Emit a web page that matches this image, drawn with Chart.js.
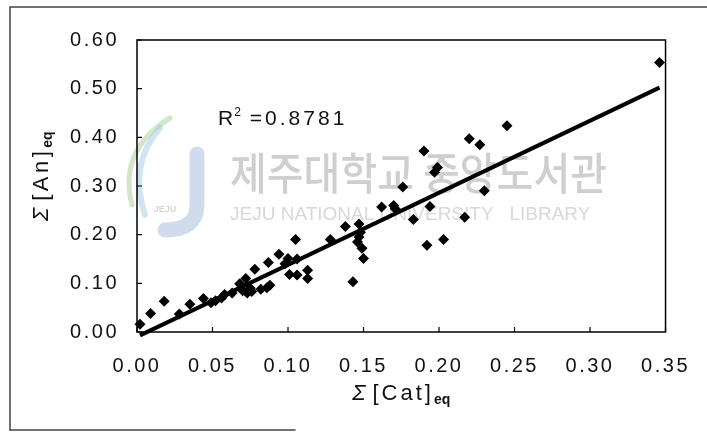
<!DOCTYPE html>
<html><head><meta charset="utf-8">
<script src="https://cdn.jsdelivr.net/npm/chart.js@4.4.1/dist/chart.umd.min.js"></script>
<style>html,body{margin:0;padding:0;background:#fff}#wrap{width:707px;height:434px;position:relative}</style>
</head><body><div id="wrap"><canvas id="c" width="707" height="434"></canvas></div>
<script>
// ---- data ----
const catEq = [0.002,0.009,0.018,0.028,0.035,0.044,0.049,0.052,0.056,0.058,0.063,0.068,0.070,0.072,0.073,0.076,0.075,0.078,0.082,0.086,0.088,0.087,0.094,0.098,0.100,0.101,0.105,0.106,0.106,0.113,0.113,0.128,0.138,0.143,0.147,0.148,0.147,0.146,0.149,0.150,0.162,0.170,0.171,0.176,0.183,0.190,0.192,0.194,0.197,0.199,0.203,0.217,0.220,0.227,0.230,0.245,0.346];
const anEq  = [0.016,0.038,0.063,0.037,0.057,0.069,0.060,0.064,0.070,0.077,0.080,0.099,0.085,0.110,0.080,0.083,0.090,0.129,0.088,0.091,0.096,0.143,0.160,0.140,0.151,0.118,0.190,0.150,0.117,0.127,0.110,0.190,0.217,0.103,0.222,0.205,0.195,0.185,0.172,0.151,0.257,0.260,0.253,0.298,0.231,0.372,0.178,0.258,0.328,0.338,0.190,0.236,0.397,0.385,0.290,0.424,0.554];
const X_TICKS = ['0.00','0.05','0.10','0.15','0.20','0.25','0.30','0.35'];
const Y_TICKS = ['0.00','0.10','0.20','0.30','0.40','0.50','0.60'];
const TREND_SLOPE = 1.48;
const TREND_INTERCEPT = -0.010;
const R2_VALUE = '0.8781';

const points = catEq.map((x,i)=>({x:x, y:anEq[i]}));
const xMin = Math.min(...catEq), xMax = Math.max(...catEq);
const trend = [{x:xMin, y:TREND_SLOPE*xMin+TREND_INTERCEPT},{x:xMax, y:TREND_SLOPE*xMax+TREND_INTERCEPT}];

const FONT = 'Liberation Sans, Arial, sans-serif';

function drawParts(ctx, parts, x, y){
  let cx = x;
  parts.forEach(p=>{
    ctx.font = p.font;
    ctx.letterSpacing = p.ls || '0px';
    ctx.fillText(p.t, cx, y + (p.dy||0));
    cx += ctx.measureText(p.t).width + (p.gap||0);
  });
  return cx - x;
}
function partsWidth(ctx, parts){
  let w=0; parts.forEach(p=>{ctx.font=p.font; ctx.letterSpacing=p.ls||'0px'; w+=ctx.measureText(p.t).width+(p.gap||0);}); return w;
}

const decor = {
  id:'decor',
  beforeDraw(chart){
    const ctx = chart.ctx;
    ctx.save();
    ctx.fillStyle='#fff'; ctx.fillRect(0,0,chart.width,chart.height);
    // watermark logo
    ctx.lineCap='round';
    ctx.strokeStyle='rgba(150,175,215,0.45)'; ctx.lineWidth=15;
    ctx.beginPath(); ctx.moveTo(197,154); ctx.lineTo(197,205); ctx.quadraticCurveTo(197,230,165,230); ctx.stroke();
    ctx.strokeStyle='rgba(165,205,150,0.5)'; ctx.lineWidth=5;
    ctx.beginPath(); ctx.moveTo(170,118); ctx.quadraticCurveTo(118,150,132,205); ctx.stroke();
    ctx.strokeStyle='rgba(150,195,225,0.45)'; ctx.lineWidth=6;
    ctx.beginPath(); ctx.moveTo(160,128); ctx.quadraticCurveTo(128,165,145,215); ctx.stroke();
    ctx.fillStyle='rgba(170,170,170,0.5)'; ctx.font='bold 9px '+FONT; ctx.textAlign='center';
    ctx.fillText('JEJU',165,212);
    // watermark texts
    ctx.textAlign='left';
    ctx.fillStyle='#cfcfcf';
    ctx.font='500 44px "Noto Sans CJK KR"';
    ctx.fillText('제주대학교 중앙도서관',230,190,377);
    ctx.fillStyle='#d8d8d8';
    ctx.font='19px '+FONT;
    ctx.fillText('JEJU NATIONAL UNIVERSITY   LIBRARY',230,220,385);
    // outer frame
    ctx.strokeStyle='#444'; ctx.lineWidth=1.5;
    ctx.beginPath(); ctx.moveTo(10,430); ctx.lineTo(10,7); ctx.lineTo(707,7); ctx.stroke();
    ctx.beginPath(); ctx.moveTo(10,430); ctx.lineTo(295,430); ctx.stroke();
    ctx.restore();
    ctx.letterSpacing='2.5px';
  },
  afterDraw(chart){
    const ctx = chart.ctx, a = chart.chartArea;
    const xs = chart.scales.x, ys = chart.scales.y;
    ctx.save();
    ctx.letterSpacing='0px';
    ctx.strokeStyle='#000'; ctx.lineWidth=1.5;
    ctx.strokeRect(a.left,a.top,a.right-a.left,a.bottom-a.top);
    ctx.lineWidth=1.2;
    ctx.beginPath();
    xs.ticks.forEach(t=>{const px=xs.getPixelForValue(t.value); ctx.moveTo(px,a.bottom); ctx.lineTo(px,a.bottom-5);});
    ys.ticks.forEach(t=>{const py=ys.getPixelForValue(t.value); ctx.moveTo(a.left,py); ctx.lineTo(a.left+5,py);});
    ctx.stroke();
    ctx.fillStyle='#111'; ctx.textBaseline='alphabetic'; ctx.textAlign='left';
    // R^2 annotation
    drawParts(ctx,[
      {t:'R', font:'21px '+FONT, ls:'0px', gap:1},
      {t:'2', font:'12px '+FONT, dy:-9, gap:9},
      {t:'='+R2_VALUE, font:'21px '+FONT, ls:'3px'}
    ], 218, 125);
    // x title
    const xp = [
      {t:'Σ', font:'italic 22px '+FONT, gap:7},
      {t:'[Cat]', font:'22px '+FONT, ls:'3px', gap:0},
      {t:'eq', font:'bold 14px '+FONT, dy:4}
    ];
    const w = partsWidth(ctx,xp);
    drawParts(ctx, xp, (a.left+a.right)/2 - w/2, 400);
    // y title
    ctx.translate(48,221); ctx.rotate(-Math.PI/2);
    drawParts(ctx,[
      {t:'Σ', font:'italic 22px '+FONT, gap:7},
      {t:'[An]', font:'22px '+FONT, ls:'3.5px', gap:0},
      {t:'eq', font:'bold 14px '+FONT, dy:4}
    ],0,0);
    ctx.restore();
  }
};

new Chart(document.getElementById('c'),{
  type:'scatter',
  data:{datasets:[
    {type:'line', data:trend, borderColor:'#000', borderWidth:4, pointRadius:0, fill:false, clip:false, order:2},
    {data:points, pointStyle:'rectRot', pointRadius:5.5, pointBackgroundColor:'#000', pointBorderColor:'#000', pointBorderWidth:0, clip:false, order:1}
  ]},
  options:{
    responsive:false, animation:false,
    layout:{padding:{left:0,top:40,right:28,bottom:0}},
    plugins:{legend:{display:false}, tooltip:{enabled:false}},
    scales:{
      x:{type:'linear', min:0, max:0.35,
        afterFit(s){s.height=102;},
        grid:{display:false, drawTicks:false}, border:{display:false},
        ticks:{stepSize:0.05, autoSkip:false, padding:22, color:'#111', font:{family:FONT,size:20},
          callback:(v,i)=>X_TICKS[i], maxRotation:0}},
      y:{type:'linear', min:0, max:0.6,
        afterFit(s){s.width=137;},
        grid:{display:false, drawTicks:false}, border:{display:false},
        ticks:{stepSize:0.1, padding:18, color:'#111', font:{family:FONT,size:20},
          callback:(v,i)=>Y_TICKS[i]}}
    }
  },
  plugins:[decor]
});
</script></body></html>
